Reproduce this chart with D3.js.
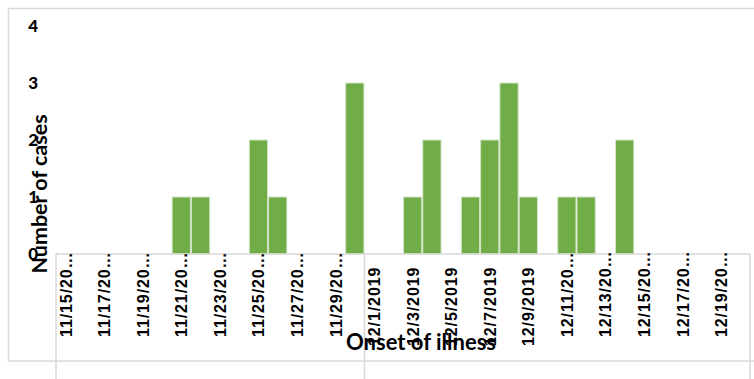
<!DOCTYPE html>
<html>
<head>
<meta charset="utf-8">
<script src="https://cdn.jsdelivr.net/npm/d3@7"></script>
<style>
  html, body { margin: 0; padding: 0; background: #fff; }
  svg { display: block; }
</style>
</head>
<body>
<svg id="chart" width="754" height="379"></svg>
<script>
// Daily onset dates (one category per day)
const dates = [
  "11/15/2019", "11/16/2019", "11/17/2019", "11/18/2019", "11/19/2019", "11/20/2019",
  "11/21/2019", "11/22/2019", "11/23/2019", "11/24/2019", "11/25/2019", "11/26/2019",
  "11/27/2019", "11/28/2019", "11/29/2019", "11/30/2019", "12/1/2019", "12/2/2019",
  "12/3/2019", "12/4/2019", "12/5/2019", "12/6/2019", "12/7/2019", "12/8/2019",
  "12/9/2019", "12/10/2019", "12/11/2019", "12/12/2019", "12/13/2019", "12/14/2019",
  "12/15/2019", "12/16/2019", "12/17/2019", "12/18/2019", "12/19/2019", "12/20/2019"
];
// Number of cases by onset date
const cases = [
  0, 0, 0, 0, 0, 0,
  1, 1, 0, 0, 2, 1,
  0, 0, 0, 3, 0, 0,
  1, 2, 0, 1, 2, 3,
  1, 0, 1, 1, 0, 2,
  0, 0, 0, 0, 0, 0
];
// Dates that carry a label on the category axis
const tickDates = dates.filter((d, i) => i % 2 === 0);
const yTicks = [0, 1, 2, 3, 4];

const svg = d3.select("#chart");
const gridColor = "#d9d9d9";

const x = d3.scaleBand().domain(dates).range([56, 750]).padding(0);
const y = d3.scaleLinear().domain([0, 4]).range([254, 26]);

// chart area border
svg.append("rect")
  .attr("x", 8.5).attr("y", 8.5)
  .attr("width", 800).attr("height", 352.5)
  .attr("fill", "none").attr("stroke", gridColor).attr("stroke-width", 1.5);

// bars
svg.append("g").selectAll("rect")
  .data(dates.map((d, i) => ({ date: d, value: cases[i] })).filter(d => d.value > 0))
  .join("rect")
  .attr("x", d => x(d.date) + 0.5)
  .attr("y", d => y(d.value))
  .attr("width", x.bandwidth() - 1)
  .attr("height", d => y(0) - y(d.value))
  .attr("fill", "#70ad47")
  .attr("stroke", "#d4e4c8")
  .attr("stroke-width", 1);

// category axis line and the box lines beneath it
svg.append("line")
  .attr("x1", 56).attr("x2", 750)
  .attr("y1", y(0)).attr("y2", y(0))
  .attr("stroke", gridColor).attr("stroke-width", 1.5);
[dates[0], dates[16]].forEach(d => {
  svg.append("line")
    .attr("x1", x(d)).attr("x2", x(d))
    .attr("y1", y(0)).attr("y2", 379)
    .attr("stroke", gridColor).attr("stroke-width", 1.5);
});
svg.append("line")
  .attr("x1", 750).attr("x2", 750)
  .attr("y1", y(0)).attr("y2", 379)
  .attr("stroke", gridColor).attr("stroke-width", 1.5);

// category labels, rotated; long dates are shortened with an ellipsis
const shorten = s => s.length > 9 ? s.slice(0, 8) + "\u2026" : s;
svg.append("g").selectAll("text")
  .data(tickDates)
  .join("text")
  .attr("transform", d => {
    const cx = x(d) + x.bandwidth() / 2 + 6;
    const cy = shorten(d) === d ? 346 : 337;
    return `translate(${cx},${cy}) rotate(-90)`;
  })
  .attr("text-anchor", "start")
  .attr("font-family", "'Liberation Sans', Arial, sans-serif")
  .attr("font-weight", "bold")
  .attr("font-size", 16)
  .attr("letter-spacing", 0.9)
  .attr("fill", "#000")
  .text(d => shorten(d));

// value axis labels
svg.append("g").selectAll("text")
  .data(yTicks)
  .join("text")
  .attr("x", 38)
  .attr("y", d => y(d) + 6)
  .attr("text-anchor", "end")
  .attr("font-family", "Lato, 'Open Sans', sans-serif")
  .attr("font-weight", "900")
  .attr("font-size", 17)
  .attr("fill", "#000")
  .text(d => d);

// axis titles
svg.append("text")
  .attr("transform", "translate(47,194) rotate(-90)")
  .attr("text-anchor", "middle")
  .attr("font-family", "Lato, 'Open Sans', sans-serif")
  .attr("font-weight", "bold")
  .attr("font-size", 21.5)
  .attr("fill", "#000")
  .text("Number of cases");

svg.append("text")
  .attr("x", 421)
  .attr("y", 350)
  .attr("text-anchor", "middle")
  .attr("font-family", "Lato, 'Open Sans', sans-serif")
  .attr("font-weight", "bold")
  .attr("font-size", 22)
  .attr("fill", "#000")
  .text("Onset of illness");
</script>
</body>
</html>
